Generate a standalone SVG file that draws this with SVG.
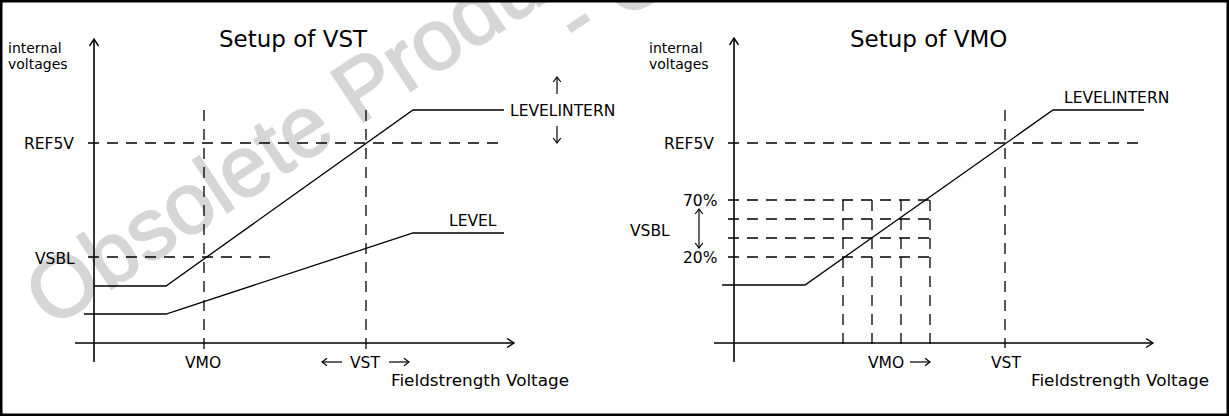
<svg xmlns="http://www.w3.org/2000/svg" width="1229" height="416" viewBox="0 0 1229 416">
  <style>
    .wm { font-family: "Liberation Sans", Arial, sans-serif; font-size: 86px; fill: #d6d6d6; stroke: #d6d6d6; stroke-width: 2; }
    .ax { stroke: #000; stroke-width: 1.6; fill: none; }
    .ln { stroke: #000; stroke-width: 1.3; fill: none; }
    .sa { stroke: #000; stroke-width: 1.2; fill: none; }
    .ds { stroke: #000; stroke-width: 1.3; fill: none; stroke-dasharray: 11 8; }
    .t { font-family: "DejaVu Sans", "Liberation Sans", sans-serif; font-size: 15.5px; fill: #000; }
    .s { font-size: 14px; }
    .ttl { font-size: 23px; }
    .fs { font-size: 16px; }
  </style>
  <defs>
    <marker id="arr" markerUnits="userSpaceOnUse" markerWidth="12" markerHeight="12" refX="0" refY="0" viewBox="-9 -6 12 12" orient="auto">
      <path d="M-7,-4.5 L0,0 L-7,4.5" fill="none" stroke="#000" stroke-width="1.4"/>
    </marker>
    <marker id="sarr" markerUnits="userSpaceOnUse" markerWidth="10" markerHeight="10" refX="0" refY="0" viewBox="-7 -5 10 10" orient="auto">
      <path d="M-5,-3.8 L0,0 L-5,3.8" fill="none" stroke="#000" stroke-width="1.2"/>
    </marker>
  </defs>

  <rect width="1229" height="416" fill="#fff"/>

  <g id="watermark">
    <text class="wm" transform="translate(51,329) rotate(-33.5)">Obsolete Product(s)</text>
    <text class="wm" transform="translate(579,50) rotate(-33.5)">- Obsolete Product(s)</text>
  </g>

  <rect id="frame" x="1.25" y="1.25" width="1226.5" height="413.5" fill="none" stroke="#000" stroke-width="2.5"/>

  <!-- Left chart: Setup of VST -->
  <g id="chart-vst">
    <g id="vst-axes">
      <line class="ax" x1="94" y1="362" x2="94" y2="39" marker-end="url(#arr)"/>
      <line class="ax" x1="75" y1="343" x2="514" y2="343" marker-end="url(#arr)"/>
    </g>
    <g id="vst-guides">
      <line class="ds" x1="204" y1="110" x2="204" y2="350"/>
      <line class="ds" x1="366" y1="110" x2="366" y2="350"/>
      <line class="ds" x1="88" y1="143" x2="502" y2="143"/>
      <line class="ds" x1="88" y1="257" x2="275" y2="257"/>
    </g>
    <g id="vst-curves">
      <polyline id="vst-levelintern" class="ln" points="94,286 166,286 413,110 504,110"/>
      <polyline id="vst-level" class="ln" points="84,314 166,314 413,233 504,233"/>
    </g>
    <g id="vst-arrows">
      <line class="sa" x1="557" y1="94" x2="557" y2="77" marker-end="url(#sarr)"/>
      <line class="sa" x1="557" y1="126" x2="557" y2="143" marker-end="url(#sarr)"/>
      <line class="sa" x1="342" y1="362" x2="322" y2="362" marker-end="url(#sarr)"/>
      <line class="sa" x1="389" y1="362" x2="409" y2="362" marker-end="url(#sarr)"/>
    </g>
    <g id="vst-labels">
      <text class="t s" x="8" y="53">internal</text>
      <text class="t s" x="8" y="69">voltages</text>
      <text class="t ttl" x="219" y="47">Setup of VST</text>
      <text class="t" x="24" y="149">REF5V</text>
      <text class="t" x="35" y="264">VSBL</text>
      <text class="t" x="449" y="226">LEVEL</text>
      <text class="t" x="510" y="116">LEVELINTERN</text>
      <text class="t" x="185" y="368">VMO</text>
      <text class="t" x="350" y="368">VST</text>
      <text class="t fs" x="391" y="386" textLength="178" lengthAdjust="spacingAndGlyphs">Fieldstrength Voltage</text>
    </g>
  </g>

  <!-- Right chart: Setup of VMO -->
  <g id="chart-vmo">
    <g id="vmo-axes">
      <line class="ax" x1="734" y1="362" x2="734" y2="38" marker-end="url(#arr)"/>
      <line class="ax" x1="714" y1="343" x2="1153" y2="343" marker-end="url(#arr)"/>
    </g>
    <g id="vmo-guides">
      <line class="ds" x1="1005" y1="110" x2="1005" y2="348"/>
      <line class="ds" x1="728" y1="143" x2="1142" y2="143"/>
      <line class="ds" x1="728" y1="200" x2="930" y2="200"/>
      <line class="ds" x1="728" y1="219" x2="930" y2="219"/>
      <line class="ds" x1="728" y1="238" x2="930" y2="238"/>
      <line class="ds" x1="728" y1="257" x2="930" y2="257"/>
      <line class="ds" x1="843" y1="200" x2="843" y2="348"/>
      <line class="ds" x1="872" y1="200" x2="872" y2="348"/>
      <line class="ds" x1="901" y1="200" x2="901" y2="348"/>
      <line class="ds" x1="930" y1="200" x2="930" y2="348"/>
    </g>
    <g id="vmo-curves">
      <polyline id="vmo-levelintern" class="ln" points="722,285 805,285 1053,110 1144,110"/>
    </g>
    <g id="vmo-arrows">
      <line class="sa" x1="699" y1="228" x2="699" y2="209" marker-end="url(#sarr)"/>
      <line class="sa" x1="699" y1="228" x2="699" y2="248" marker-end="url(#sarr)"/>
      <line class="sa" x1="910" y1="362" x2="930" y2="362" marker-end="url(#sarr)"/>
    </g>
    <g id="vmo-labels">
      <text class="t s" x="649" y="53">internal</text>
      <text class="t s" x="649" y="69">voltages</text>
      <text class="t ttl" x="850" y="47">Setup of VMO</text>
      <text class="t" x="1064" y="103">LEVELINTERN</text>
      <text class="t" x="664" y="149">REF5V</text>
      <text class="t" x="683" y="206">70%</text>
      <text class="t" x="630" y="236">VSBL</text>
      <text class="t" x="683" y="263">20%</text>
      <text class="t" x="868" y="368">VMO</text>
      <text class="t" x="991" y="368">VST</text>
      <text class="t fs" x="1031" y="386" textLength="178" lengthAdjust="spacingAndGlyphs">Fieldstrength Voltage</text>
    </g>
  </g>
</svg>
